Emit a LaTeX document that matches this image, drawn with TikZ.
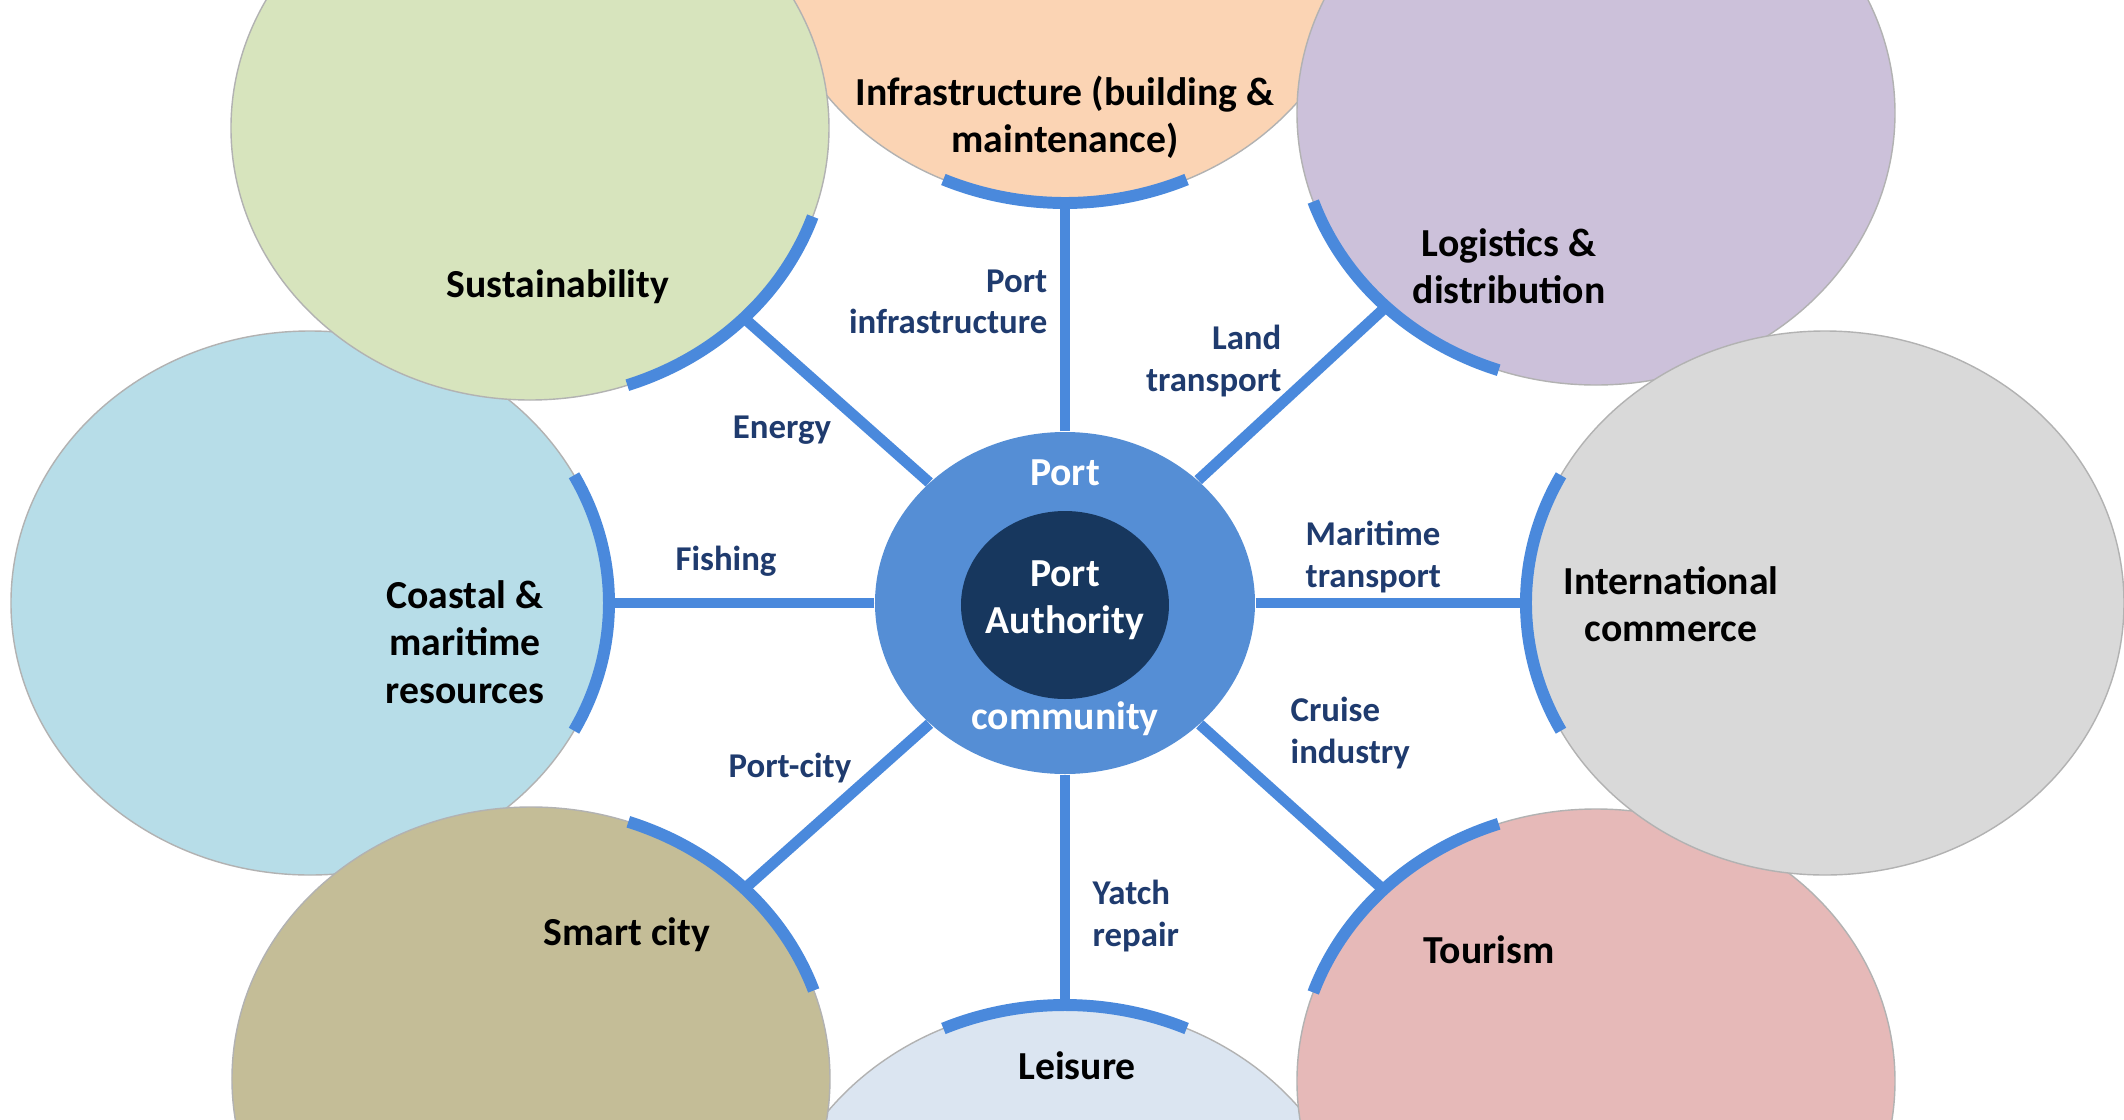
\documentclass[tikz,border=0pt]{standalone}
\usepackage{fontspec}
\setmainfont{Carlito}
\usepackage{tikz}
\usetikzlibrary{shapes.geometric}
\definecolor{hubblue}{HTML}{558ED5}
\definecolor{hubdark}{HTML}{17375E}
\definecolor{rimblue}{HTML}{4A89DC}
\definecolor{linkblue}{HTML}{1F3B6E}
\definecolor{infracol}{HTML}{FBD4B4}
\definecolor{leiscol}{HTML}{DBE5F1}
\definecolor{coastcol}{HTML}{B7DDE8}
\definecolor{sustcol}{HTML}{D7E4BD}
\definecolor{smartcol}{HTML}{C4BD97}
\definecolor{logicol}{HTML}{CCC1DA}
\definecolor{tourcol}{HTML}{E6B9B8}
\definecolor{intlcol}{HTML}{D9D9D9}
\tikzset{
  topic/.style={ellipse,draw=black!30,line width=0.4pt,minimum width=5.98cm,minimum height=5.44cm,inner sep=0pt},
  topictext/.style={font=\fontsize{11.3}{13.5}\selectfont\bfseries,align=center,text=black,inner sep=0pt},
  hubtext/.style={font=\fontsize{11.3}{13.5}\selectfont\bfseries,align=center,text=white,inner sep=0pt},
  linktext/.style={font=\fontsize{9.9}{11.7}\selectfont\bfseries,text=linkblue,inner sep=0pt},
  spoke/.style={draw=rimblue,line width=3.1pt},
  rim/.style={draw=rimblue,line width=3.4pt}
}

\begin{document}
\begin{tikzpicture}
\useasboundingbox (-10.65,-5.16) rectangle (10.59,6.03);
\clip (-10.65,-5.16) rectangle (10.59,6.03);
\fill[white] (-10.65,-5.16) rectangle (10.59,6.03);

\node[topic,fill=infracol] (infra) at (0,6.72) {};
\node[topic,fill=leiscol] (leis) at (0,-6.74) {};
\node[topic,fill=coastcol] (coast) at (-7.55,0) {};
\node[topic,fill=sustcol] (sust) at (-5.35,4.75) {};
\node[topic,fill=smartcol] (smart) at (-5.34,-4.76) {};
\node[topic,fill=logicol] (logi) at (5.31,4.9) {};
\node[topic,fill=tourcol] (tour) at (5.31,-4.78) {};
\node[topic,fill=intlcol] (intl) at (7.6,0) {};

\node[ellipse,fill=hubblue,minimum width=3.8cm,minimum height=3.42cm,inner sep=0pt] (hub) at (0,0) {};
\node[ellipse,fill=hubdark,minimum width=2.08cm,minimum height=1.88cm,inner sep=0pt] (core) at (0,-0.02) {};

\foreach \n in {infra,leis,coast,sust,smart,logi,tour,intl}
  \draw[spoke] (hub) -- (\n);
\foreach \n/\a/\s in {infra/-90/24,leis/90/24,coast/0/28,intl/180/28,sust/-45/26,smart/45/26,logi/-135/26,tour/135/26}
  \draw[rim] (\n.center) ++({\a-\s}:2.99 and 2.72) arc[start angle=\a-\s,end angle=\a+\s,x radius=2.99,y radius=2.72];

\node[topictext] (infralbl) at (0,4.86) {Infrastructure (building \&\\maintenance)};
\node[topictext] (sustlbl) at (-5.07,3.16) {Sustainability};
\node[topictext] (logilbl) at (4.44,3.37) {Logistics \&\\distribution};
\node[topictext] (coastlbl) at (-6.0,-0.39) {Coastal \&\\maritime\\resources};
\node[topictext] (intllbl) at (6.06,-0.01) {International\\commerce};
\node[topictext] (smartlbl) at (-4.38,-3.32) {Smart city};
\node[topictext] (tourlbl) at (4.24,-3.47) {Tourism};
\node[topictext] (leislbl) at (0.12,-4.63) {Leisure};

\node[hubtext] (porttop) at (0,1.30) {Port};
\node[hubtext] (corelbl) at (0,0.03) {Port\\Authority};
\node[hubtext] (commlbl) at (0,-1.16) {community};

\node[linktext,anchor=east,align=right] (infralink) at (-0.17,3.01) {Port\\infrastructure};
\node[linktext,anchor=east,align=right] (logilink) at (2.17,2.42) {Land\\transport};
\node[linktext] (sustlink) at (-2.83,1.73) {Energy};
\node[linktext] (coastlink) at (-3.39,0.42) {Fishing};
\node[linktext,anchor=west,align=left] (intllink) at (2.40,0.46) {Maritime\\transport};
\node[linktext,anchor=west,align=left] (tourlink) at (2.25,-1.30) {Cruise\\industry};
\node[linktext] (smartlink) at (-2.75,-1.65) {Port-city};
\node[linktext,anchor=west,align=left] (leislink) at (0.27,-3.13) {Yatch\\repair};
\end{tikzpicture}
\end{document}
